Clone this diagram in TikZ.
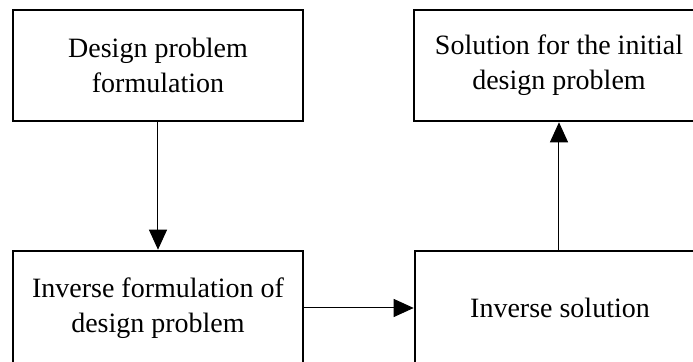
\documentclass[tikz,border=0pt]{standalone}
\usepackage{fontspec}
\setmainfont{Liberation Serif}
\usetikzlibrary{arrows.meta}
\begin{document}
\begin{tikzpicture}[x=0.5pt,y=-0.5pt,
  stagebox/.style={draw=black, line width=1.3pt, minimum width=145pt,
    inner sep=0pt, align=center, font=\fontsize{14}{17.5}\selectfont},
  flow/.style={line width=0.5pt, -{Triangle[length=10pt,width=9pt]}}]
  \useasboundingbox (0,0) rectangle (693,362);
  \clip (0,0) rectangle (693,362);
  % the four stages of the inverse design procedure
  \node[stagebox, minimum height=55.5pt] (formulation) at (158,65.5)
    {Design problem\\formulation};
  \node[stagebox, minimum height=55.5pt] (initial) at (559,65.5)
    {Solution for the initial\\design problem};
  \node[stagebox, minimum height=57pt] (inverse) at (158,308)
    {Inverse formulation of\\design problem};
  \node[stagebox, minimum height=57pt] (solution) at (560,308)
    {Inverse solution};
  % connectors between the stages
  \draw[flow] (formulation) -- (inverse);
  \draw[flow] (inverse) -- (solution);
  \draw[flow] (solution.north -| initial) -- (initial);
\end{tikzpicture}
\end{document}
